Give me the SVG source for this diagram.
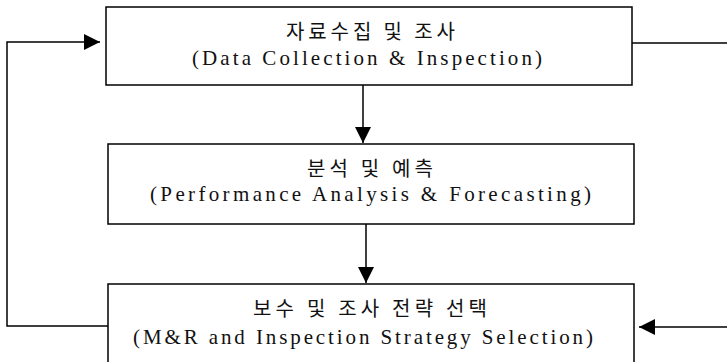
<svg xmlns="http://www.w3.org/2000/svg" width="727" height="362" viewBox="0 0 727 362">
<style>
.box{fill:#fff;stroke:#000;stroke-width:1.5}
.ko{font-family:"Noto Sans CJK KR","Noto Sans",sans-serif;font-size:20px;fill:#111}
.en{font-family:"Liberation Serif","Times New Roman",serif;font-size:21px;fill:#111}
.ln{fill:none;stroke:#000;stroke-width:1.5}
</style>
<defs>
<marker id="ah" markerUnits="userSpaceOnUse" markerWidth="16" markerHeight="16" refX="16" refY="8" orient="auto">
<path d="M0,0 L16,8 L0,16 z" fill="#000"/>
</marker>
</defs>
<rect width="727" height="362" fill="#fff"/>
<g id="connectors">
<line class="ln" x1="363" y1="85" x2="363" y2="143" marker-end="url(#ah)"/>
<line class="ln" x1="366" y1="224" x2="366" y2="283" marker-end="url(#ah)"/>
<polyline class="ln" points="108,326 7,326 7,42 100,42" marker-end="url(#ah)"/>
<line class="ln" x1="632" y1="43" x2="727" y2="43"/>
<line class="ln" x1="727" y1="327" x2="639" y2="327" marker-end="url(#ah)"/>
</g>
<g id="node-collect">
<rect class="box" x="106" y="7" width="526" height="78"/>
<text class="ko" x="286" y="39" textLength="169" lengthAdjust="spacing">자료수집 및 조사</text>
<text class="en" x="192" y="65" textLength="350" lengthAdjust="spacing">(Data Collection &amp; Inspection)</text>
</g>
<g id="node-analysis">
<rect class="box" x="108" y="144" width="526" height="80"/>
<text class="ko" x="307" y="176" textLength="126" lengthAdjust="spacing">분석 및 예측</text>
<text class="en" x="150" y="201" textLength="441" lengthAdjust="spacing">(Performance Analysis &amp; Forecasting)</text>
</g>
<g id="node-strategy">
<rect class="box" x="108" y="284" width="526" height="100"/>
<text class="ko" x="253" y="316" textLength="234" lengthAdjust="spacing">보수 및 조사 전략 선택</text>
<text class="en" x="133" y="344" textLength="460" lengthAdjust="spacing">(M&amp;R and Inspection Strategy Selection)</text>
</g>
</svg>
